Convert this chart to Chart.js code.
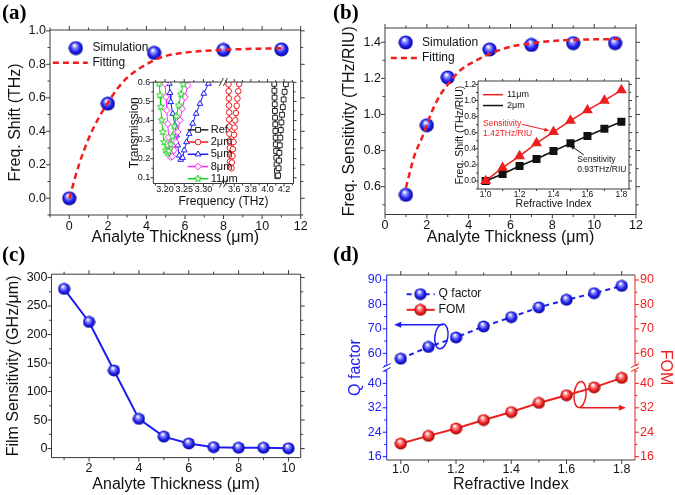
<!DOCTYPE html>
<html>
<head>
<meta charset="utf-8">
<title>THz metamaterial sensor</title>
<script src="https://cdn.jsdelivr.net/npm/chart.js@4.4.1/dist/chart.umd.min.js"></script>
<style>
  html, body { margin: 0; padding: 0; background: #fff; }
  #fig { position: relative; width: 675px; height: 495px; overflow: hidden; background: #fff; }
  #fig canvas { position: absolute; left: 0; top: 0; }
  .tag { position: absolute; font: bold 21px 'Liberation Serif', 'Times New Roman', serif; line-height: 21px; color: #000; }
</style>
</head>
<body>
<div id="fig">
  <canvas id="chartA" width="675" height="495"></canvas>
  <canvas id="insetA" width="675" height="495"></canvas>
  <canvas id="chartB" width="675" height="495"></canvas>
  <canvas id="insetB" width="675" height="495"></canvas>
  <canvas id="chartC" width="675" height="495"></canvas>
  <canvas id="chartD" width="675" height="495"></canvas>
  <div class="tag" style="left:2px;top:2px">(a)</div>
  <div class="tag" style="left:333px;top:2px">(b)</div>
  <div class="tag" style="left:2px;top:244px">(c)</div>
  <div class="tag" style="left:333px;top:244px">(d)</div>
</div>
<script>
/**
 * Sensor figure - four panels, two insets, all drawn with Chart.js scatter charts
 */

const FONT = "'Liberation Sans', Arial, Helvetica, sans-serif";
const INK = '#111111';
const FRAME = '#3a3a3a';
const RED = '#f01e1e';
const BLUE = '#1c1cf5';

// (a) frequency shift vs analyte thickness
const thickA = [0, 2, 4.4, 8, 11];
const shiftA = [0.0, 0.565, 0.868, 0.886, 0.889];
const fitThickA = [0, 0.5, 1, 1.5, 2, 2.5, 3, 3.5, 4, 4.5, 5, 6, 7, 8, 9, 10, 11];
const fitShiftA = [0.0, 0.2, 0.355, 0.475, 0.57, 0.655, 0.72, 0.765, 0.8, 0.83, 0.85, 0.87, 0.88, 0.886, 0.891, 0.894, 0.896];
const ticksAX = [0, 2, 4, 6, 8, 10, 12];
const ticksAY = [0, 0.2, 0.4, 0.6, 0.8, 1.0];

// (a) inset - transmission dips
const refF = [4.082, 4.084, 4.086, 4.088, 4.090, 4.092, 4.094, 4.096, 4.099, 4.101, 4.104, 4.107, 4.110, 4.114, 4.119, 4.128, 4.134, 4.139, 4.144, 4.149, 4.155, 4.161, 4.168, 4.176, 4.185, 4.195, 4.207, 4.222];
const refT = [0.592, 0.556, 0.520, 0.485, 0.450, 0.415, 0.380, 0.345, 0.310, 0.275, 0.240, 0.205, 0.170, 0.136, 0.108, 0.112, 0.150, 0.190, 0.230, 0.270, 0.310, 0.350, 0.390, 0.430, 0.470, 0.510, 0.550, 0.590];
const d2F = [3.531, 3.533, 3.535, 3.536, 3.538, 3.539, 3.541, 3.542, 3.544, 3.546, 3.548, 3.550, 3.554, 3.566, 3.572, 3.578, 3.584, 3.590, 3.597, 3.604, 3.612, 3.620, 3.629, 3.638, 3.648, 3.659];
const d2T = [0.590, 0.553, 0.516, 0.479, 0.442, 0.405, 0.368, 0.331, 0.294, 0.257, 0.220, 0.185, 0.156, 0.150, 0.180, 0.215, 0.250, 0.287, 0.325, 0.363, 0.401, 0.439, 0.477, 0.515, 0.553, 0.591];
const d5F = [3.211, 3.213, 3.215, 3.220, 3.226, 3.230, 3.233, 3.237, 3.241, 3.246, 3.250, 3.256, 3.263, 3.272, 3.281, 3.291, 3.301, 3.313];
const d5T = [0.593, 0.545, 0.497, 0.436, 0.375, 0.322, 0.270, 0.217, 0.195, 0.205, 0.244, 0.287, 0.331, 0.384, 0.436, 0.488, 0.541, 0.593];
const d8F = [3.200, 3.2026, 3.2044, 3.207, 3.2096, 3.2112, 3.2148, 3.219, 3.2234, 3.228, 3.233, 3.239, 3.245, 3.252, 3.259];
const d8T = [0.593, 0.523, 0.453, 0.383, 0.313, 0.252, 0.208, 0.212, 0.244, 0.287, 0.340, 0.401, 0.462, 0.523, 0.584];
const d11F = [3.1851, 3.187, 3.1888, 3.1914, 3.194, 3.1974, 3.2018, 3.206, 3.210, 3.2148, 3.219, 3.2242, 3.2294, 3.2356, 3.2416, 3.2476];
const d11T = [0.593, 0.532, 0.471, 0.401, 0.340, 0.287, 0.244, 0.229, 0.240, 0.275, 0.317, 0.369, 0.422, 0.479, 0.537, 0.590];
const insetLabels = ['Ref', '2μm', '5μm', '8μm', '11μm'];
const ticksInY = [0.1, 0.2, 0.3, 0.4, 0.5, 0.6];
const ticksInXL = [3.20, 3.25, 3.30];
const ticksInXR = [3.6, 3.8, 4.0, 4.2];

// (b) frequency sensitivity vs analyte thickness
const thickB = [1, 2, 3, 5, 7, 9, 11];
const sensB = [0.555, 0.94, 1.205, 1.36, 1.385, 1.395, 1.395];
const fitThickB = [1.0, 1.4, 1.8, 2.2, 2.6, 3.1, 3.6, 4.3, 5.1, 6.0, 7.0, 8.4, 10.0, 11.2];
const fitSensB = [0.594, 0.77, 0.88, 1.005, 1.10, 1.18, 1.245, 1.295, 1.34, 1.375, 1.395, 1.41, 1.416, 1.418];
const ticksBX = [0, 2, 4, 6, 8, 10, 12];
const ticksBY = [0.6, 0.8, 1.0, 1.2, 1.4];

// (b) inset - shift vs refractive index
const indexB = [1.0, 1.1, 1.2, 1.3, 1.4, 1.5, 1.6, 1.7, 1.8];
const shift11 = [0.0, 0.165, 0.31, 0.47, 0.61, 0.75, 0.88, 1.0, 1.13];
const shift2 = [0.0, 0.087, 0.186, 0.273, 0.372, 0.468, 0.559, 0.65, 0.736];
const ticksBinX = [1.0, 1.2, 1.4, 1.6, 1.8];
const ticksBinY = [0.0, 0.2, 0.4, 0.6, 0.8, 1.0, 1.2];

// (c) film sensitivity
const thickC = [1, 2, 3, 4, 5, 6, 7, 8, 9, 10];
const filmC = [280, 222, 137, 52, 21, 9, 2.5, 1.5, 1.5, 0.5];
const ticksCX = [2, 4, 6, 8, 10];
const ticksCY = [0, 50, 100, 150, 200, 250, 300];

// (d) Q factor and FOM
const indexD = [1.0, 1.1, 1.2, 1.3, 1.4, 1.5, 1.6, 1.7, 1.8];
const qD = [57.8, 62.6, 66.5, 71.0, 74.8, 78.8, 81.9, 84.6, 87.6];
const fomD = [20.3, 22.8, 25.2, 28.0, 30.6, 33.6, 36.1, 38.7, 41.8];
const ticksDX = [1.0, 1.2, 1.4, 1.6, 1.8];
const ticksDHi = [60, 70, 80, 90];
const ticksDLo = [16, 24, 32, 40];

Chart.defaults.font.family = FONT;
Chart.defaults.color = INK;

const pts = (xs, ys) => xs.map((x, i) => ({ x: x, y: ys[i] }));
const f0 = v => String(v);
const f1 = v => v.toFixed(1);
const f2 = v => v.toFixed(2);

function sphere(d, light, body, dark) {
    const cv = document.createElement('canvas');
    cv.width = cv.height = d;
    const g = cv.getContext('2d');
    const r = d / 2;
    const grad = g.createRadialGradient(r * 0.8, r * 0.62, r * 0.08, r, r, r);
    grad.addColorStop(0, '#ffffff');
    grad.addColorStop(0.22, light);
    grad.addColorStop(0.62, body);
    grad.addColorStop(1, dark);
    g.fillStyle = grad;
    g.beginPath();
    g.arc(r, r, r - 0.4, 0, Math.PI * 2);
    g.fill();
    return cv;
}

function starMark(d, color) {
    const cv = document.createElement('canvas');
    cv.width = cv.height = d;
    const g = cv.getContext('2d');
    g.translate(d / 2, d / 2);
    g.beginPath();
    for (let i = 0; i < 10; i++) {
        const ang = -Math.PI / 2 + i * Math.PI / 5;
        const rr = i % 2 ? d * 0.2 : d * 0.46;
        g.lineTo(Math.cos(ang) * rr, Math.sin(ang) * rr);
    }
    g.closePath();
    g.fillStyle = '#fff';
    g.fill();
    g.strokeStyle = color;
    g.lineWidth = 1;
    g.stroke();
    return cv;
}

const blueBig = sphere(15, '#9a9aff', '#2020f0', '#05058a');
const blueSmall = sphere(13, '#9a9aff', '#2020f0', '#05058a');
const redSmall = sphere(13, '#ff9a9a', '#f02020', '#8a0505');
const greenStar = starMark(8, '#1fd21f');

function drawMarker(ctx, style, r, x, y, fill, stroke, bw) {
    ctx.save();
    ctx.fillStyle = fill || '#fff';
    ctx.strokeStyle = stroke || INK;
    ctx.lineWidth = bw || 1;
    Chart.helpers.drawPoint(ctx, { pointStyle: style, radius: r, rotation: 0, borderWidth: bw || 1 }, x, y);
    ctx.restore();
}

function drawNotes(chart, notes) {
    const ctx = chart.ctx;
    notes.forEach(n => {
        const xs = chart.scales[n.xs || 'x'];
        const ys = chart.scales[n.ys || 'y'];
        const X = v => xs.getPixelForValue(v);
        const Y = v => ys.getPixelForValue(v);
        const color = n.color || INK;
        ctx.save();
        ctx.strokeStyle = color;
        ctx.fillStyle = color;
        ctx.lineWidth = n.width || 1;
        if (n.type === 'title') {
            ctx.font = (n.size || 16) + 'px ' + FONT;
            ctx.textAlign = 'center';
            ctx.textBaseline = 'middle';
            ctx.translate(n.px, n.py);
            ctx.rotate(n.rot || 0);
            ctx.fillText(n.text, 0, 0);
        } else if (n.type === 'text') {
            ctx.font = (n.size || 12) + 'px ' + FONT;
            ctx.textAlign = n.align || 'left';
            ctx.textBaseline = 'middle';
            ctx.fillText(n.text, X(n.x), Y(n.y));
        } else if (n.type === 'line') {
            ctx.setLineDash(n.dash || []);
            ctx.beginPath();
            ctx.moveTo(X(n.x1), Y(n.y));
            ctx.lineTo(X(n.x2), Y(n.y));
            ctx.stroke();
        } else if (n.type === 'marker') {
            drawMarker(ctx, n.style, n.r || 7, X(n.x), Y(n.y), n.fill, color, n.bw);
        } else if (n.type === 'arrow') {
            const x1 = X(n.x1), y1 = Y(n.y1), x2 = X(n.x2), y2 = Y(n.y2);
            const ang = Math.atan2(y2 - y1, x2 - x1), h = n.head || 6, w = h * 0.42;
            ctx.beginPath();
            ctx.moveTo(x1, y1);
            ctx.lineTo(x2 - Math.cos(ang) * h * 0.7, y2 - Math.sin(ang) * h * 0.7);
            ctx.stroke();
            ctx.beginPath();
            ctx.moveTo(x2, y2);
            ctx.lineTo(x2 - h * Math.cos(ang) + w * Math.sin(ang), y2 - h * Math.sin(ang) - w * Math.cos(ang));
            ctx.lineTo(x2 - h * Math.cos(ang) - w * Math.sin(ang), y2 - h * Math.sin(ang) + w * Math.cos(ang));
            ctx.closePath();
            ctx.fill();
        } else if (n.type === 'ellipse') {
            ctx.beginPath();
            ctx.ellipse(X(n.x), Y(n.y), n.rx, n.ry, n.rot || 0, 0, Math.PI * 2);
            ctx.stroke();
        }
        ctx.restore();
    });
}

// box, outward ticks (major + one minor), axis breaks and free notes
const framePlugin = {
    id: 'frame',
    beforeDraw(chart, args, o) {
        if (!o.fill) return;
        const a = chart.chartArea;
        chart.ctx.save();
        chart.ctx.fillStyle = o.fill;
        chart.ctx.fillRect(a.left, a.top, a.right - a.left, a.bottom - a.top);
        chart.ctx.restore();
    },
    afterDatasetsDraw(chart, args, o) {
        const ctx = chart.ctx, a = chart.chartArea;
        const major = o.major || 4, minor = o.minor || 2.5;
        ctx.save();
        ctx.lineWidth = 1;
        (o.sides || []).forEach(s => {
            const sc = chart.scales[s.scale];
            const horiz = s.side === 'top' || s.side === 'bottom';
            const out = (s.side === 'top' || s.side === 'left') ? -1 : 1;
            const edge = a[s.side];
            ctx.strokeStyle = s.color || FRAME;
            ctx.beginPath();
            if (horiz) { ctx.moveTo(sc.left, edge); ctx.lineTo(sc.right, edge); }
            else { ctx.moveTo(edge, sc.top); ctx.lineTo(edge, sc.bottom); }
            const vals = sc.ticks.map(t => t.value);
            const step = vals[1] - vals[0];
            const marks = vals.map(v => [v, major]);
            for (let v = vals[0] - step / 2; v <= sc.max + 1e-9; v += step) {
                if (v >= sc.min - 1e-9) marks.push([v, minor]);
            }
            marks.forEach(([v, len]) => {
                const p = sc.getPixelForValue(v);
                if (horiz) { ctx.moveTo(p, edge); ctx.lineTo(p, edge + out * len); }
                else { ctx.moveTo(edge, p); ctx.lineTo(edge + out * len, p); }
            });
            ctx.stroke();
        });
        (o.breaks || []).forEach(b => {
            const sc = chart.scales[b.scale];
            ctx.strokeStyle = b.color || FRAME;
            ctx.fillStyle = '#fff';
            ctx.beginPath();
            if (b.side === 'left' || b.side === 'right') {
                const x = a[b.side], y = sc.bottom;
                ctx.fillRect(x - 1.5, y - 2, 3, 4);
                ctx.moveTo(x - 4, y); ctx.lineTo(x + 4, y - 4);
                ctx.moveTo(x - 4, y + 4); ctx.lineTo(x + 4, y);
            } else {
                const x = sc.right, y = a[b.side];
                ctx.fillRect(x - 2, y - 1.5, 4, 3);
                ctx.moveTo(x - 4, y + 4); ctx.lineTo(x, y - 4);
                ctx.moveTo(x, y + 4); ctx.lineTo(x + 4, y - 4);
            }
            ctx.stroke();
        });
        ctx.restore();
    },
    afterDraw(chart, args, o) {
        if (o.notes) drawNotes(chart, o.notes);
    }
};

function axis(o) {
    const vertical = o.pos === 'left' || o.pos === 'right';
    const cfg = {
        type: 'linear',
        position: o.pos,
        min: o.min,
        max: o.max,
        afterBuildTicks: s => { s.ticks = o.ticks.map(v => ({ value: v })); },
        afterFit: s => { if (vertical) s.width = o.size; else s.height = o.size; },
        grid: { display: false, drawTicks: false },
        border: { display: false },
        ticks: {
            autoSkip: false, maxRotation: 0, minRotation: 0, padding: o.pad,
            color: o.color || INK, font: { family: FONT, size: o.fs },
            callback: v => o.fmt(v)
        },
        title: {
            display: !!o.title, text: o.title || '', color: INK, padding: 0,
            font: { family: FONT, size: o.tfs || 16 }
        }
    };
    if (o.stack) { cfg.stack = o.stack; cfg.stackWeight = 1; }
    return cfg;
}

const box4 = (x, y) => [
    { scale: x, side: 'bottom' }, { scale: x, side: 'top' },
    { scale: y, side: 'left' }, { scale: y, side: 'right' }
];

function makeChart(id, padding, scales, datasets, frame) {
    return new Chart(document.getElementById(id), {
        type: 'scatter',
        data: { datasets: datasets },
        options: {
            responsive: false,
            animation: false,
            events: [],
            layout: { padding: padding },
            scales: scales,
            plugins: { legend: { display: false }, tooltip: { enabled: false }, frame: frame }
        },
        plugins: [framePlugin]
    });
}

// ---- (a)
makeChart('chartA', { left: 6.2, top: 30, right: 374.3, bottom: 247.9 }, {
    x: axis({ pos: 'bottom', min: -1, max: 12, ticks: ticksAX, fmt: f0, size: 32.1, pad: 4, fs: 12.5, title: 'Analyte Thickness (μm)' }),
    y: axis({ pos: 'left', min: -0.1, max: 1.005, ticks: ticksAY, fmt: f1, size: 43.8, pad: 4, fs: 12.5, title: 'Freq. Shift (THz)' })
}, [
    { data: pts(fitThickA, fitShiftA), showLine: true, pointRadius: 0, borderColor: RED, borderWidth: 2.5, borderDash: [6, 4], cubicInterpolationMode: 'monotone' },
    { data: pts(thickA, shiftA), pointStyle: blueBig, pointRadius: 7.5 }
], {
    sides: box4('x', 'y'),
    notes: [
        { type: 'marker', x: 0.34, y: 0.897, style: blueBig },
        { type: 'text', x: 1.2, y: 0.897, text: 'Simulation', size: 12 },
        { type: 'line', x1: -0.85, x2: 0.96, y: 0.81, color: RED, width: 2.5, dash: [6, 4] },
        { type: 'text', x: 1.2, y: 0.81, text: 'Fitting', size: 12 }
    ]
});

// ---- (a) inset
const insetData = [[refF, refT], [d2F, d2T], [d5F, d5T], [d8F, d8T], [d11F, d11T]];
const insetColors = ['#222222', RED, BLUE, '#ff26ff', '#1fd21f'];
const insetMarks = ['rect', 'circle', 'triangle', 'rectRot', greenStar];
const insetRadius = [3.4, 2.8, 3.3, 3.3, 4];
const insetAxes = ['xR', 'xR', 'xL', 'xL', 'xL'];
const insetRows = [0.351, 0.287, 0.223, 0.159, 0.095];

const insetSets = insetData.map((d, i) => ({
    data: pts(d[0], d[1]), xAxisID: insetAxes[i], yAxisID: 'y', showLine: true,
    borderColor: insetColors[i], borderWidth: 1,
    pointStyle: insetMarks[i], pointRadius: insetRadius[i],
    pointBackgroundColor: '#fff', pointBorderColor: insetColors[i], pointBorderWidth: 1
})).reverse();

const insetNotes = [];
insetLabels.forEach((label, i) => {
    insetNotes.push({ type: 'line', xs: 'xL', x1: 3.259, x2: 3.3127, y: insetRows[i], color: insetColors[i], width: 1.5 });
    insetNotes.push({ type: 'marker', xs: 'xL', x: 3.286, y: insetRows[i], style: insetMarks[i], r: insetRadius[i], color: insetColors[i], fill: '#fff' });
    insetNotes.push({ type: 'text', xs: 'xL', x: 3.319, y: insetRows[i], text: label, size: 11 });
});
insetNotes.push({ type: 'title', px: 134.3, py: 132.7, rot: -Math.PI / 2, text: 'Transmission', size: 12 });
insetNotes.push({ type: 'title', px: 223.4, py: 201.7, text: 'Frequency (THz)', size: 12 });

makeChart('insetA', { left: 133.3, top: 82, right: 381.5, bottom: 295.5 }, {
    xL: axis({ pos: 'bottom', stack: 'f', min: 3.1695, max: 3.352, ticks: ticksInXL, fmt: f2, size: 16, pad: 1, fs: 9 }),
    xR: axis({ pos: 'bottom', stack: 'f', min: 3.469, max: 4.314, ticks: ticksInXR, fmt: f1, size: 16, pad: 1, fs: 9 }),
    y: axis({ pos: 'left', min: 0.07, max: 0.6016, ticks: ticksInY, fmt: f1, size: 20, pad: 3, fs: 9 })
}, insetSets, {
    fill: '#ffffff', major: 3, minor: 2,
    sides: [
        { scale: 'xL', side: 'bottom' }, { scale: 'xR', side: 'bottom' },
        { scale: 'xL', side: 'top' }, { scale: 'xR', side: 'top' },
        { scale: 'y', side: 'left' }, { scale: 'y', side: 'right' }
    ],
    breaks: [{ scale: 'xL', side: 'bottom' }, { scale: 'xL', side: 'top' }],
    notes: insetNotes
});

// ---- (b)
makeChart('chartB', { left: 340.4, top: 28, right: 39, bottom: 247.9 }, {
    x: axis({ pos: 'bottom', min: 0, max: 12, ticks: ticksBX, fmt: f0, size: 32.6, pad: 4, fs: 12.5, title: 'Analyte Thickness (μm)' }),
    y: axis({ pos: 'left', min: 0.446, max: 1.479, ticks: ticksBY, fmt: f1, size: 44.6, pad: 4, fs: 12.5, title: 'Freq. Sensitivity (THz/RIU)' })
}, [
    { data: pts(fitThickB, fitSensB), showLine: true, pointRadius: 0, borderColor: RED, borderWidth: 2.5, borderDash: [6, 4], cubicInterpolationMode: 'monotone' },
    { data: pts(thickB, sensB), pointStyle: blueBig, pointRadius: 7.5 }
], {
    sides: box4('x', 'y'),
    notes: [
        { type: 'marker', x: 0.99, y: 1.399, style: blueBig },
        { type: 'text', x: 1.77, y: 1.399, text: 'Simulation', size: 12 },
        { type: 'line', x1: 0.28, x2: 1.58, y: 1.313, color: RED, width: 2.5, dash: [6, 4] },
        { type: 'text', x: 1.77, y: 1.313, text: 'Fitting', size: 12 }
    ]
});

// ---- (b) inset
makeChart('insetB', { left: 453.7, top: 81, right: 46, bottom: 284.7 }, {
    x: axis({ pos: 'bottom', min: 0.955, max: 1.845, ticks: ticksBinX, fmt: f1, size: 21.3, pad: 1, fs: 8.5, title: 'Refractive Index', tfs: 10.5 }),
    y: axis({ pos: 'left', min: -0.1, max: 1.243, ticks: ticksBinY, fmt: f1, size: 24.3, pad: 2, fs: 8.5, title: 'Freq. Shift (THz/RIU)', tfs: 10.5 })
}, [
    { data: pts(indexB, shift11), showLine: true, borderColor: RED, borderWidth: 1.5, pointStyle: 'triangle', pointRadius: 4.8, pointBackgroundColor: RED, pointBorderColor: RED },
    { data: pts(indexB, shift2), showLine: true, borderColor: '#111', borderWidth: 1.5, pointStyle: 'rect', pointRadius: 4.6, pointBackgroundColor: '#111', pointBorderColor: '#111' }
], {
    fill: '#ffffff', major: 3, minor: 2,
    sides: box4('x', 'y'),
    notes: [
        { type: 'line', x1: 0.984, x2: 1.102, y: 1.073, color: RED, width: 1.5 },
        { type: 'text', x: 1.126, y: 1.073, text: '11μm', size: 9 },
        { type: 'line', x1: 0.984, x2: 1.102, y: 0.938, color: '#111', width: 1.5 },
        { type: 'text', x: 1.126, y: 0.938, text: '2μm', size: 9 },
        { type: 'text', x: 0.985, y: 0.717, text: 'Sensitivity', size: 8.5, color: RED },
        { type: 'text', x: 0.985, y: 0.593, text: '1.42THz/RIU', size: 8.5, color: RED },
        { type: 'arrow', x1: 1.213, y1: 0.705, x2: 1.375, y2: 0.625, color: RED, head: 5 },
        { type: 'text', x: 1.54, y: 0.261, text: 'Sensitivity', size: 8.5 },
        { type: 'text', x: 1.54, y: 0.137, text: '0.93THz/RIU', size: 8.5 },
        { type: 'arrow', x1: 1.579, y1: 0.323, x2: 1.497, y2: 0.447, color: '#111', head: 5 }
    ]
});

// ---- (c)
makeChart('chartC', { left: 4, top: 274.2, right: 374.3, bottom: 1.2 }, {
    x: axis({ pos: 'bottom', min: 0.495, max: 10.49, ticks: ticksCX, fmt: f0, size: 36.2, pad: 3, fs: 12.5, title: 'Analyte Thickness (μm)' }),
    y: axis({ pos: 'left', min: -15.8, max: 305.8, ticks: ticksCY, fmt: f0, size: 47.5, pad: 4, fs: 12.5, title: 'Film Sensitivity (GHz/μm)' })
}, [
    { data: pts(thickC, filmC), showLine: true, borderColor: BLUE, borderWidth: 2, pointStyle: blueSmall, pointRadius: 6.5 }
], {
    sides: box4('x', 'y')
});

// ---- (d) broken y axes built from stacked scales
makeChart('chartD', { left: 356.7, top: 275, right: 10, bottom: 1.2 }, {
    x: axis({ pos: 'bottom', min: 0.949, max: 1.848, ticks: ticksDX, fmt: f1, size: 33.8, pad: 2, fs: 12.5, title: 'Refractive Index' }),
    yLoL: axis({ pos: 'left', stack: 'L', min: 14.9, max: 45.2, ticks: ticksDLo, fmt: f0, size: 30, pad: 5, fs: 12.5, color: BLUE }),
    yHiL: axis({ pos: 'left', stack: 'L', min: 54.2, max: 92.05, ticks: ticksDHi, fmt: f0, size: 30, pad: 5, fs: 12.5, color: BLUE }),
    yHiR: axis({ pos: 'right', stack: 'R', min: 54.2, max: 92.05, ticks: ticksDHi, fmt: f0, size: 30, pad: 5, fs: 12.5, color: RED }),
    yLoR: axis({ pos: 'right', stack: 'R', min: 14.9, max: 45.2, ticks: ticksDLo, fmt: f0, size: 30, pad: 5, fs: 12.5, color: RED })
}, [
    { data: pts(indexD, qD), xAxisID: 'x', yAxisID: 'yHiL', showLine: true, borderColor: BLUE, borderWidth: 2, borderDash: [5, 4], pointStyle: blueSmall, pointRadius: 6.5 },
    { data: pts(indexD, fomD), xAxisID: 'x', yAxisID: 'yLoR', showLine: true, borderColor: RED, borderWidth: 2, pointStyle: redSmall, pointRadius: 6.5 }
], {
    sides: [
        { scale: 'x', side: 'bottom' }, { scale: 'x', side: 'top' },
        { scale: 'yLoL', side: 'left', color: BLUE }, { scale: 'yHiL', side: 'left', color: BLUE },
        { scale: 'yHiR', side: 'right', color: RED }, { scale: 'yLoR', side: 'right', color: RED }
    ],
    breaks: [{ scale: 'yHiL', side: 'left', color: BLUE }, { scale: 'yHiR', side: 'right', color: RED }],
    notes: [
        { type: 'line', ys: 'yHiL', x1: 1.021, x2: 1.123, y: 84.2, color: BLUE, width: 2, dash: [5, 4] },
        { type: 'marker', ys: 'yHiL', x: 1.071, y: 84.2, style: blueSmall },
        { type: 'text', ys: 'yHiL', x: 1.137, y: 84.2, text: 'Q factor', size: 12 },
        { type: 'line', ys: 'yHiL', x1: 1.021, x2: 1.123, y: 77.8, color: RED, width: 2 },
        { type: 'marker', ys: 'yHiL', x: 1.071, y: 77.8, style: redSmall },
        { type: 'text', ys: 'yHiL', x: 1.137, y: 77.8, text: 'FOM', size: 12 },
        { type: 'ellipse', ys: 'yHiL', x: 1.147, y: 66.95, rx: 6.5, ry: 12.5, rot: 0.15, color: BLUE, width: 1.5 },
        { type: 'arrow', ys: 'yHiL', x1: 1.153, y1: 71.7, x2: 0.976, y2: 71.7, color: BLUE, width: 1.5, head: 7 },
        { type: 'ellipse', ys: 'yLoR', x: 1.649, y: 36.35, rx: 6, ry: 13, rot: 0.1, color: RED, width: 1.5 },
        { type: 'arrow', ys: 'yLoR', x1: 1.649, y1: 32.0, x2: 1.815, y2: 32.0, color: RED, width: 1.5, head: 7 },
        { type: 'title', px: 355.8, py: 367.5, rot: -Math.PI / 2, text: 'Q factor', size: 16, color: BLUE },
        { type: 'title', px: 665.8, py: 367.5, rot: Math.PI / 2, text: 'FOM', size: 16, color: RED }
    ]
});
</script>
</body>
</html>
